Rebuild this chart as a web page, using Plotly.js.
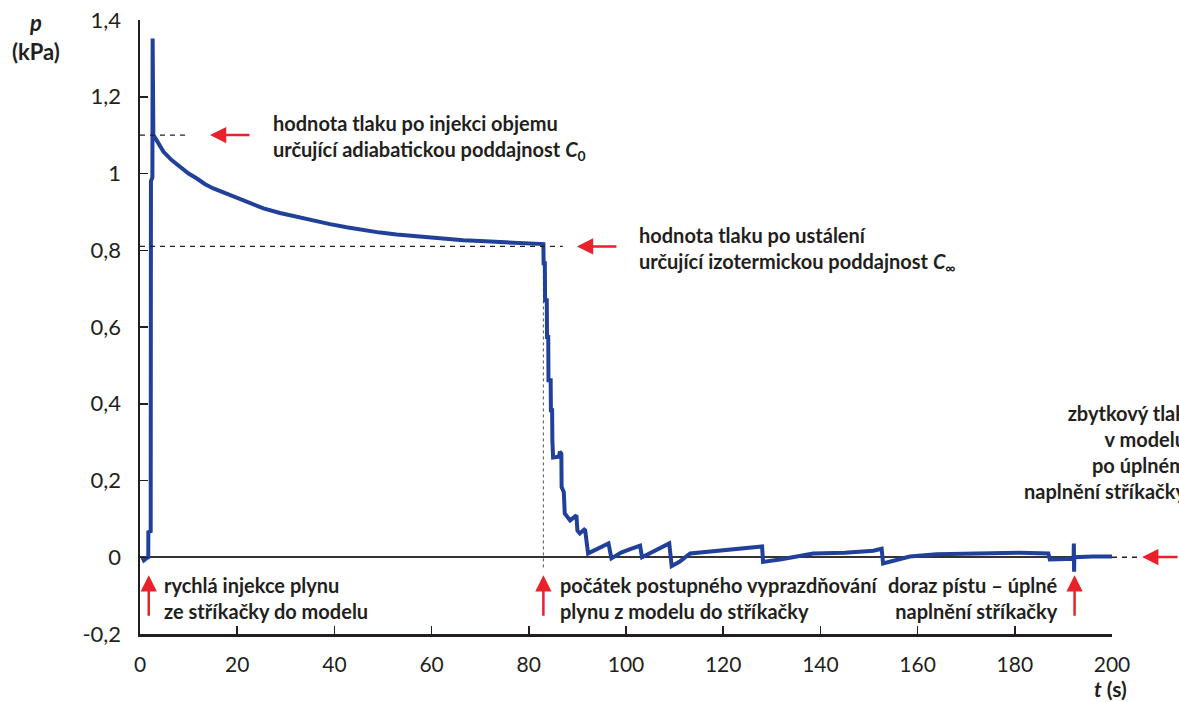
<!DOCTYPE html>
<html>
<head>
<meta charset="utf-8">
<script src="https://cdn.plot.ly/plotly-3.0.1.min.js"></script>
<style>html,body{margin:0;padding:0;background:#fff;}#chart{width:1179px;height:702px;}</style>
</head>
<body>
<div id="chart"></div>
<script>
// time (s)
const tValues = [0.5, 0.8, 1.3, 1.7, 1.72, 2.2, 2.25, 2.55, 2.6, 2.65, 2.75, 3.5, 4.8, 6.5, 8.2, 10, 11.7, 13.4, 15.1, 18.5, 22, 25.4, 28.8, 32.2, 35.7, 39.1, 42.5, 45.9, 49.4, 52.8, 56.2, 59.7, 63.1, 66.5, 70, 73.4, 76.8, 80.2, 83.0,
  83.05, 83.3, 83.35, 83.7, 83.75, 84.0, 84.05, 84.5, 84.55, 84.8, 84.85, 85.0, 86.2, 86.4, 86.7, 86.75, 87.2, 87.4, 88.5, 89.5, 89.8, 90.0, 90.5, 91.4, 91.6, 92.2,
  94, 96.4, 97.0, 99, 101, 102.9, 103.3, 106, 108.9, 109.4, 111, 113.2, 117.9, 122.8, 126, 128, 128.2, 132, 138.5, 145, 150.9, 152.6, 152.9, 155, 158.4, 163.9, 172.1, 181.1, 186.9, 187.2, 192.1, 192.15, 192.2, 192.25, 196, 200.2];
// pressure (kPa)
const pValues = [0.0, -0.008, -0.003, 0.0, 0.065, 0.068, 0.98, 0.99, 1.352, 1.10, 1.100, 1.085, 1.057, 1.035, 1.017, 1.000, 0.987, 0.972, 0.961, 0.944, 0.925, 0.909, 0.897, 0.887, 0.877, 0.868, 0.860, 0.852, 0.846, 0.841, 0.837, 0.833, 0.829, 0.826, 0.824, 0.822, 0.820, 0.818, 0.816,
  0.766, 0.766, 0.670, 0.670, 0.574, 0.574, 0.461, 0.461, 0.383, 0.383, 0.305, 0.26, 0.262, 0.275, 0.27, 0.183, 0.17, 0.114, 0.096, 0.105, 0.109, 0.07, 0.062, 0.072, 0.07, 0.010,
  0.02, 0.036, -0.003, 0.012, 0.022, 0.03, 0.0, 0.018, 0.036, -0.023, -0.012, 0.010, 0.016, 0.021, 0.024, 0.028, -0.012, -0.005, 0.010, 0.012, 0.017, 0.022, -0.016, -0.01, 0.002, 0.008, 0.010, 0.012, 0.010, -0.006, -0.004, 0.036, -0.038, 0.0, 0.002, 0.002];

const xTickVals = [0, 20, 40, 60, 80, 100, 120, 140, 160, 180, 200];
const yTickVals = [-0.2, 0, 0.2, 0.4, 0.6, 0.8, 1.0, 1.2, 1.4];
const yTickText = ['-0,2', '0', '0,2', '0,4', '0,6', '0,8', '1', '1,2', '1,4'];

// reference levels
const pAdiabatic = 1.10;
const pIsothermal = 0.81;
const tInjection = 1.8;
const tEmptyStart = 83.0;
const tPistonStop = 192.3;

const textColor = '#231f20';
const red = '#e8212b';
const FONT = 'Lato, "Open Sans", sans-serif';

const trace = {
  x: tValues, y: pValues, type: 'scatter', mode: 'lines',
  line: {color: '#21409a', width: 4}, hoverinfo: 'skip'
};

const annFont = {family: FONT, size: 20, color: textColor, weight: 700};

function upArrow(t) {
  return {x: t, y: -0.047, xref: 'x', yref: 'y', ax: 0, ay: 42, text: '', showarrow: true,
    arrowhead: 2, arrowsize: 1.3, arrowwidth: 2.5, arrowcolor: red};
}

const layout = {
  width: 1179, height: 702,
  margin: {l: 140, r: 67, t: 20, b: 68},
  paper_bgcolor: '#fff', plot_bgcolor: '#fff',
  showlegend: false,
  separators: ', ',
  font: {family: FONT, color: textColor},
  xaxis: {
    range: [0, 200], tickvals: xTickVals, ticktext: xTickVals.map(String),
    showgrid: false, zeroline: false, showline: true, linecolor: '#231f20', linewidth: 2.5,
    ticks: 'inside', ticklen: 8, tickwidth: 1.5, tickcolor: '#231f20',
    tickfont: {family: FONT, size: 21, color: textColor}, ticklabelstandoff: 10
  },
  yaxis: {
    range: [-0.2, 1.4], tickvals: yTickVals, ticktext: yTickText,
    showgrid: false, zeroline: true, zerolinecolor: '#333', zerolinewidth: 2,
    showline: true, linecolor: '#231f20', linewidth: 2.5,
    ticks: 'inside', ticklen: 8, tickwidth: 1.5, tickcolor: '#231f20',
    tickfont: {family: FONT, size: 22, color: textColor}, ticklabelstandoff: 12
  },
  shapes: [
    {type: 'line', xref: 'x', yref: 'y', x0: 0, x1: 10.3, y0: pAdiabatic, y1: pAdiabatic,
      line: {color: '#222', width: 1.3, dash: '5px,5px'}},
    {type: 'line', xref: 'x', yref: 'y', x0: 0, x1: 87, y0: pIsothermal, y1: pIsothermal,
      line: {color: '#222', width: 1.3, dash: '5px,5px'}},
    {type: 'line', xref: 'x', yref: 'y', x0: tEmptyStart, x1: tEmptyStart, y0: pIsothermal, y1: -0.03,
      line: {color: '#555', width: 1, dash: 'dot'}, layer: 'below'},
    {type: 'line', xref: 'paper', yref: 'y', x0: 1.0, x1: 1.027, y0: 0, y1: 0,
      line: {color: '#222', width: 1.3, dash: '5px,5px'}}
  ],
  annotations: [
    {xref: 'paper', yref: 'paper', x: -0.107, y: 0.972, xanchor: 'center', yanchor: 'middle', showarrow: false,
      text: '<i>p</i><br>(kPa)', font: {family: FONT, size: 22, color: textColor, weight: 700}},
    {xref: 'paper', yref: 'paper', x: 0.998, y: -0.088, xanchor: 'center', yanchor: 'middle', showarrow: false,
      text: '<i>t</i> (s)', font: {family: FONT, size: 21, color: textColor, weight: 700}},
    {xref: 'paper', yref: 'paper', x: 0.1348, y: 0.8086, xanchor: 'left', yanchor: 'middle', align: 'left', showarrow: false,
      text: 'hodnota tlaku po injekci objemu<br>určující adiabatickou poddajnost <i>C</i><sub>0</sub>', font: annFont},
    {xref: 'paper', yref: 'paper', x: 0.5113, y: 0.6262, xanchor: 'left', yanchor: 'middle', align: 'left', showarrow: false,
      text: 'hodnota tlaku po ustálení<br>určující izotermickou poddajnost <i>C</i><sub>∞</sub>', font: annFont},
    {xref: 'paper', yref: 'paper', x: 0.0226, y: 0.0594, xanchor: 'left', yanchor: 'middle', align: 'left', showarrow: false,
      text: 'rychlá injekce plynu<br>ze stříkačky do modelu', font: annFont},
    {xref: 'paper', yref: 'paper', x: 0.430, y: 0.0594, xanchor: 'left', yanchor: 'middle', align: 'left', showarrow: false,
      text: 'počátek postupného vyprazdňování<br>plynu z modelu do stříkačky', font: annFont},
    {xref: 'paper', yref: 'paper', x: 0.9465, y: 0.0594, xanchor: 'right', yanchor: 'middle', align: 'right', showarrow: false,
      text: 'doraz pístu – úplné<br>naplnění stříkačky', font: annFont},
    {xref: 'paper', yref: 'paper', x: 1.078, y: 0.297, xanchor: 'right', yanchor: 'middle', align: 'right', showarrow: false,
      text: 'zbytkový tlak<br>v modelu<br>po úplném<br>naplnění stříkačky', font: annFont},
    // red arrows
    {x: 14.4, y: pAdiabatic, xref: 'x', yref: 'y', ax: 41, ay: 0, text: '', showarrow: true,
      arrowhead: 2, arrowsize: 1.3, arrowwidth: 2.5, arrowcolor: red},
    {x: 89.9, y: pIsothermal, xref: 'x', yref: 'y', ax: 41, ay: 0, text: '', showarrow: true,
      arrowhead: 2, arrowsize: 1.3, arrowwidth: 2.5, arrowcolor: red},
    {x: 1.031, y: 0.1254, xref: 'paper', yref: 'paper', ax: 40, ay: 0, text: '', showarrow: true,
      arrowhead: 2, arrowsize: 1.3, arrowwidth: 2.5, arrowcolor: red},
    upArrow(tInjection), upArrow(tEmptyStart), upArrow(tPistonStop)
  ]
};

Plotly.newPlot('chart', [trace], layout, {displayModeBar: false, staticPlot: true});
</script>
</body>
</html>
